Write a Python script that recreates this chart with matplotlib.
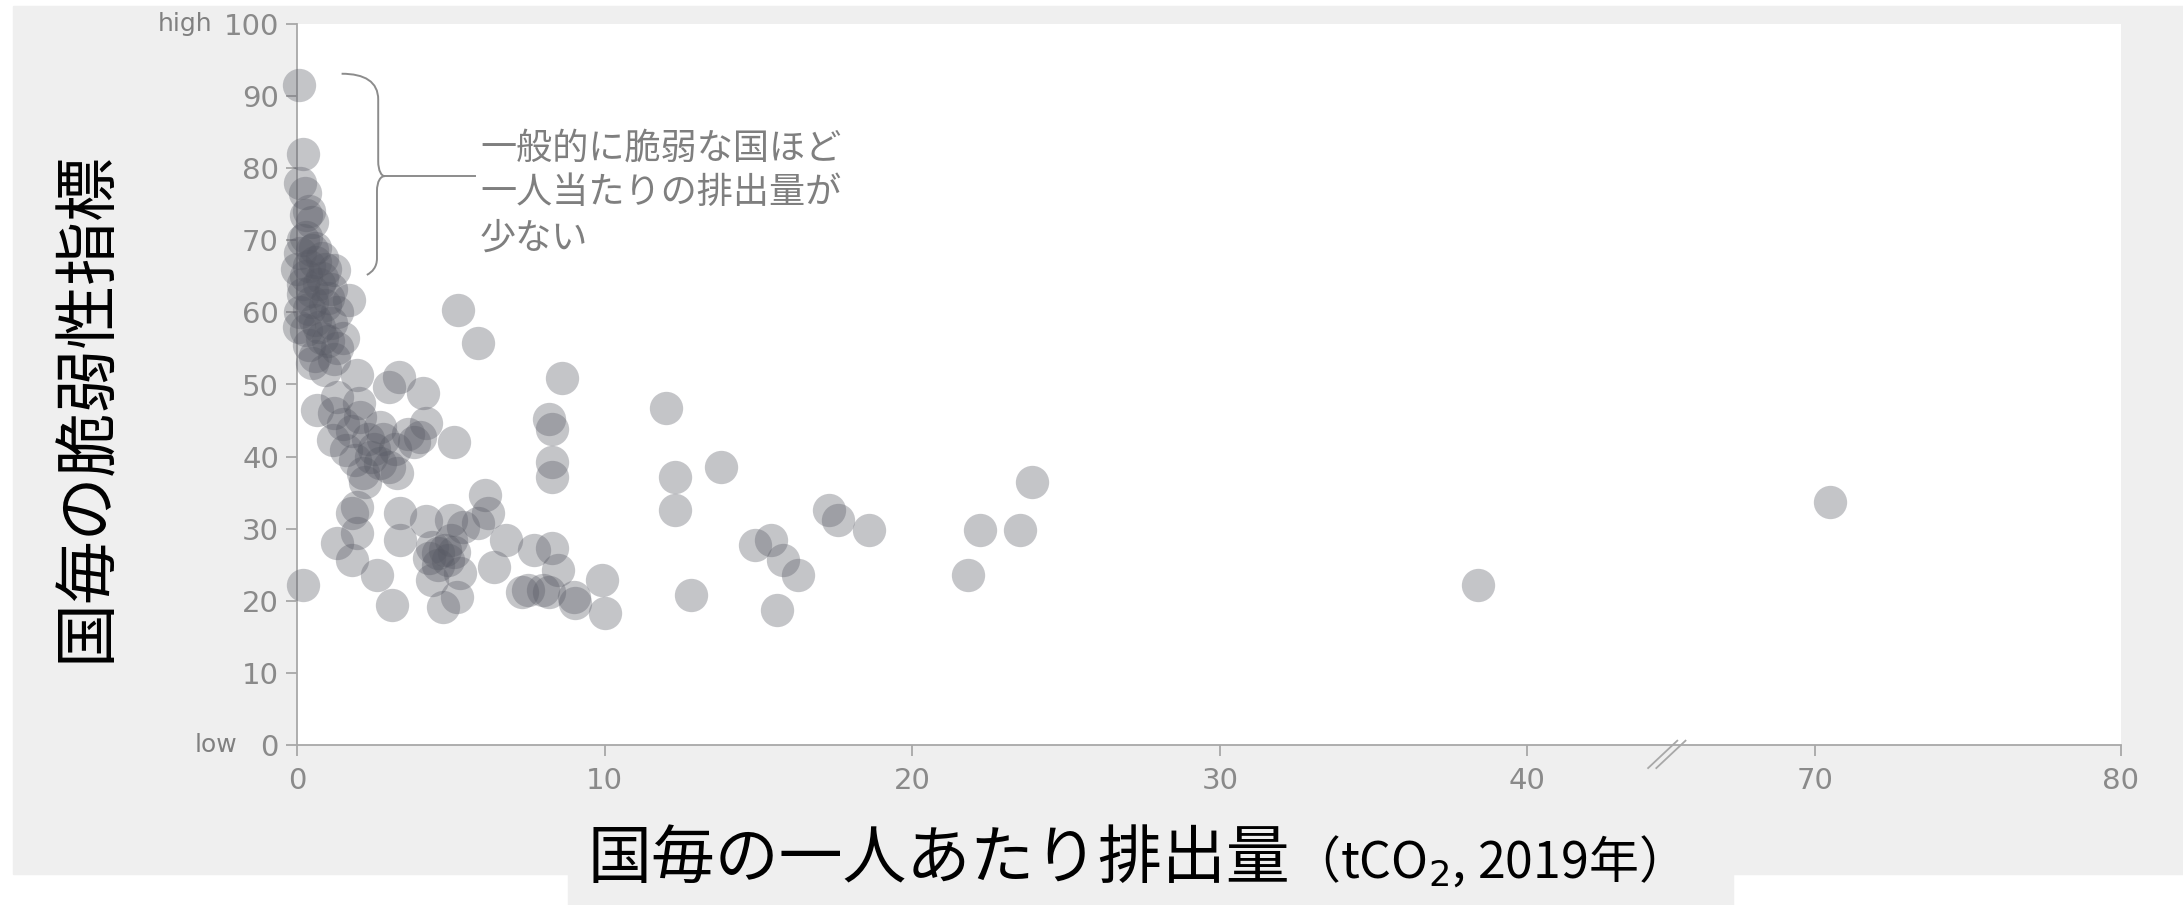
import matplotlib
matplotlib.use("Agg")
import matplotlib.pyplot as plt
from matplotlib.path import Path
from matplotlib.patches import PathPatch, Rectangle
import numpy as np

plt.rcParams['font.family'] = ['Noto Sans CJK JP', 'DejaVu Sans']

# 一人あたり排出量 (tCO2) と 脆弱性指標
emission = [0.05, 0.2, 0.1, 0.25, 0.3, 0.5, 0.2, 0.1, 0.5, 0.6,
            1.2, 0.9, 0.3, 0.7, 1.1, 0.2, 0.5, 0.9, 1.7, 0.1,
            0.6, 0.05, 1.1, 0.3, 0.8, 1.5, 1.3, 0.6, 0.5, 0.9,
            0.65, 1.95, 3.3, 3.0, 4.1, 1.3, 2.05, 2.7, 1.5, 4.2,
            4.0, 3.8, 3.6, 5.1, 1.17, 1.6, 2.3, 2.5, 1.9, 2.7,
            3.0, 2.15, 3.25, 1.95, 1.8, 6.1, 3.35, 3.35, 1.3, 1.95,
            1.8, 2.6, 3.1, 0.2, 4.2, 5.0, 4.4, 4.6, 4.8, 4.9,
            4.6, 5.0, 5.3, 4.75, 5.4, 5.9, 6.8, 6.4, 5.2, 4.4,
            6.2, 7.7, 5.24, 5.9, 8.6, 8.2, 8.3, 8.3, 8.3, 8.3,
            8.5, 7.3, 7.5, 8.0, 8.2, 9.0, 9.05, 9.9, 10.0, 12.0,
            12.3, 12.3, 12.8, 13.8, 14.9, 15.4, 15.8, 16.3, 15.6, 17.3,
            17.6, 18.6, 22.2, 23.5, 23.9, 21.8, 38.4, 70.5,
            0.3, 0.6, 0.4, 0.8, 0.2, 1.0, 0.4, 0.7, 1.0, 0.4,
            1.2, 0.8, 0.0, 0.5, 1.3, 0.4, 1.2, 2.0, 1.8, 2.4,
            2.8, 3.2, 2.2, 4.3, 5.1]
vulnerability = [91.5, 82.0, 78.0, 76.5, 73.5, 72.5, 70.0, 68.2, 68.6, 67.0,
                 65.9, 66.0, 65.0, 64.0, 63.3, 62.5, 61.5, 61.0, 61.7, 60.0,
                 59.0, 58.0, 58.5, 57.5, 56.5, 56.5, 55.0, 54.0, 53.0, 52.0,
                 46.4, 51.3, 51.0, 49.7, 48.8, 48.3, 45.5, 44.1, 44.5, 44.7,
                 42.7, 42.0, 43.2, 42.0, 42.3, 40.9, 42.5, 41.0, 39.5, 39.1,
                 38.5, 37.7, 37.7, 33.0, 32.2, 34.7, 32.2, 28.4, 28.0, 29.4,
                 25.7, 23.6, 19.4, 22.2, 31.0, 31.2, 27.5, 26.6, 27.0, 25.7,
                 25.0, 28.5, 23.8, 19.2, 30.2, 30.8, 28.4, 24.7, 20.5, 22.9,
                 32.2, 27.0, 60.3, 55.8, 50.9, 45.2, 43.8, 39.3, 37.2, 27.3,
                 24.3, 21.2, 21.5, 21.5, 21.2, 20.5, 19.7, 22.9, 18.3, 46.7,
                 37.2, 32.6, 20.8, 38.6, 27.7, 28.5, 25.7, 23.6, 18.7, 32.6,
                 31.2, 29.8, 29.8, 29.8, 36.5, 23.6, 22.2, 33.7,
                 70.5, 69.0, 66.5, 64.8, 64.0, 62.0, 60.5, 58.0, 56.0, 55.5,
                 53.5, 67.5, 66.0, 63.0, 60.0, 74.0, 46.0, 47.5, 43.5, 40.0,
                 42.5, 41.0, 36.5, 26.0, 26.8]

x_ticks = [0, 10, 20, 30, 40, 70, 80]
y_ticks = [0, 10, 20, 30, 40, 50, 60, 70, 80, 90, 100]
note = "一般的に脆弱な国ほど\n一人当たりの排出量が\n少ない"

# 横軸は 44.5 と 70 の間を省略 (縮める)
real_pts = np.array([0, 44.5, 70, 80])
disp_pts = np.array([0, 44.5, 49.35, 59.3])

def fwd(x):
    x = np.asarray(x, dtype=float)
    y = np.interp(x, real_pts, disp_pts)
    y = np.where(x < 0, x, y)
    y = np.where(x > 80, 59.3 + (x - 80), y)
    return y

def inv(y):
    y = np.asarray(y, dtype=float)
    x = np.interp(y, disp_pts, real_pts)
    x = np.where(y < 0, y, x)
    x = np.where(y > 59.3, 80 + (y - 59.3), x)
    return x

W, H = 2183, 905
fig = plt.figure(figsize=(W / 100, H / 100), dpi=100, facecolor='white')

# 背景の灰色
bg = '#efefef'
fig.patches.append(Rectangle((13 / W, 1 - 874 / H), 1 - 13 / W, (874 - 6) / H,
                             transform=fig.transFigure, color=bg, zorder=-10))
fig.patches.append(Rectangle((568 / W, 0), (1733 - 568) / W, 80 / H,
                             transform=fig.transFigure, color=bg, zorder=-10))

ax = fig.add_axes([297 / W, 1 - 745 / H, (2121 - 297) / W, (745 - 24) / H])
ax.set_facecolor('white')
ax.set_xscale('function', functions=(fwd, inv))

ax.plot(emission, vulnerability, 'o', color='#585a64', alpha=0.35,
        markersize=24, markeredgewidth=0, clip_on=False, zorder=3)

ax.set_xlim(0, 80)
ax.set_ylim(0, 100)
ax.set_xticks(x_ticks)
ax.set_yticks(y_ticks)

axis_gray = '#a8a8a8'
label_gray = '#8a8a8a'
for s in ['top', 'right']:
    ax.spines[s].set_visible(False)
for s in ['left', 'bottom']:
    ax.spines[s].set_color(axis_gray)
    ax.spines[s].set_linewidth(1.3)
ax.tick_params(axis='both', colors=axis_gray, length=8, width=1.3,
               labelcolor=label_gray, labelsize=21)
ax.tick_params(axis='x', pad=8)
ax.tick_params(axis='y', pad=5)
for lab in ax.get_xticklabels() + ax.get_yticklabels():
    lab.set_family('DejaVu Sans')

ax.annotate('high', xy=(0, 100), xycoords='data', xytext=(-61, 0),
            textcoords='offset points', ha='right', va='center',
            fontsize=18, color='#808080', annotation_clip=False,
            family='DejaVu Sans')
ax.annotate('low', xy=(0, 0), xycoords='data', xytext=(-43, 0),
            textcoords='offset points', ha='right', va='center',
            fontsize=18, color='#808080', annotation_clip=False,
            family='DejaVu Sans')

# 省略記号 //
bx = fwd(44.6) / fwd(80)
for dx in [-0.002, 0.0025]:
    ax.plot([bx + dx - 0.008, bx + dx + 0.008], [-0.032, 0.006],
            transform=ax.transAxes, color=axis_gray, lw=1.3, clip_on=False)

# 中括弧と注記
verts = [(1.45, 93.1), (2.2, 93.1), (2.64, 92.0), (2.64, 89.5),
         (2.64, 81.0),
         (2.64, 79.6), (2.75, 78.9), (2.85, 78.9),
         (2.72, 78.9), (2.6, 78.2), (2.6, 76.8),
         (2.6, 67.5),
         (2.6, 66.3), (2.45, 65.6), (2.27, 65.2)]
codes = [Path.MOVETO, Path.CURVE4, Path.CURVE4, Path.CURVE4,
         Path.LINETO,
         Path.CURVE4, Path.CURVE4, Path.CURVE4,
         Path.CURVE4, Path.CURVE4, Path.CURVE4,
         Path.LINETO,
         Path.CURVE4, Path.CURVE4, Path.CURVE4]
ax.add_patch(PathPatch(Path(verts, codes), fill=False, edgecolor='#8c8c8c', lw=1.4))
ax.plot([2.85, 5.8], [78.9, 78.9], color='#8c8c8c', lw=1.4)
ax.text(5.95, 76.5, note, ha='left', va='center', fontsize=26,
        color='#7f7f7f', linespacing=1.32)

# 軸ラベル
fig.text(87 / W, 1 - 407 / H, '国毎の脆弱性指標', rotation=90, ha='center',
         va='center', fontsize=46, color='black')
fig.text(1290 / W, 1 - 878 / H, '国毎の一人あたり排出量', ha='right',
         va='baseline', fontsize=46, color='black')
fig.text(1290 / W, 1 - 878 / H, '（tCO$_2$, 2019年）', ha='left',
         va='baseline', fontsize=36, color='black')

plt.savefig('out.png', dpi=100, facecolor=fig.get_facecolor())
